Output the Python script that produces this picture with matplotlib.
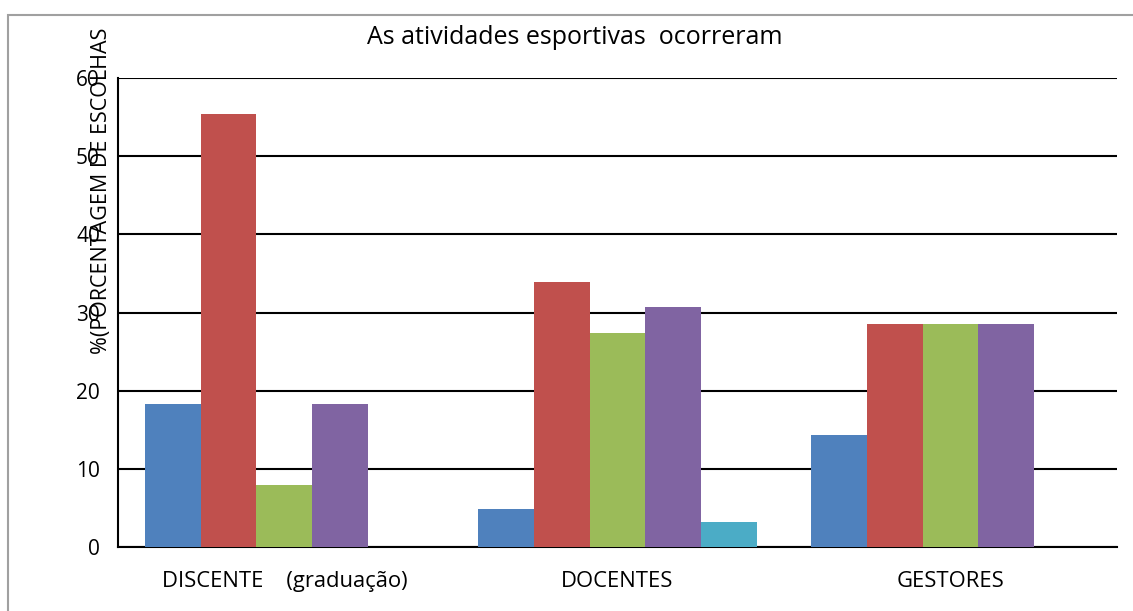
import matplotlib
matplotlib.use('Agg')
import matplotlib.pyplot as plt
from matplotlib.patches import Rectangle
import numpy as np

# ── data ─────────────────────────────────────────────────────────────────────
categories = ['DISCENTE    (graduação)', 'DOCENTES', 'GESTORES']
serie1 = [18.3, 4.9, 14.3]
serie2 = [55.4, 33.9, 28.5]
serie3 = [7.9, 27.4, 28.5]
serie4 = [18.3, 30.7, 28.5]
serie5 = [0.0, 3.2, 0.0]
yticks = [0, 10, 20, 30, 40, 50, 60]

series = [serie1, serie2, serie3, serie4, serie5]
colors = ['#4F81BD', '#C0504D', '#9BBB59', '#8064A2', '#4BACC6']

plt.rcParams['font.family'] = ['Open Sans', 'DejaVu Sans']

fig = plt.figure(figsize=(11.33, 6.11), dpi=100, facecolor='white')
ax = fig.add_axes([0.1041, 0.1047, 0.8818, 0.7676])

# outer chart frame
fig.patches.append(Rectangle((8 / 1133, -0.1), 1.2, 1 - 15 / 611 + 0.1,
                             transform=fig.transFigure, fill=False,
                             edgecolor='#A0A0A0', lw=1.5, zorder=0))

x = np.arange(len(categories))
w = 0.168
for i, (vals, c) in enumerate(zip(series, colors)):
    ax.bar(x + (i - 2) * w, vals, width=w, color=c, zorder=3)

ax.set_xlim(-0.5, len(categories) - 0.5)
ax.set_ylim(0, 60)
ax.set_yticks(yticks)
ax.set_yticklabels([str(t) for t in yticks], fontsize=15)
ax.set_xticks(x)
ax.set_xticklabels(categories, fontsize=15.8)
ax.tick_params(axis='y', length=0, pad=13)
ax.tick_params(axis='x', length=0, pad=17)
ax.grid(axis='y', color='black', lw=1.5, zorder=1)
for side in ['top', 'right']:
    ax.spines[side].set_visible(False)
for side in ['left', 'bottom']:
    ax.spines[side].set_color('black')
    ax.spines[side].set_linewidth(1.5)

fig.text(0.0900, 0.687, '%(PORCENTAGEM DE ESCOLHAS', rotation=90,
         ha='center', va='center', fontsize=15.5)
fig.text(0.5075, 0.939, 'As atividades esportivas  ocorreram',
         ha='center', va='center', fontsize=18)

plt.savefig('out.png', dpi=100, facecolor='white')
